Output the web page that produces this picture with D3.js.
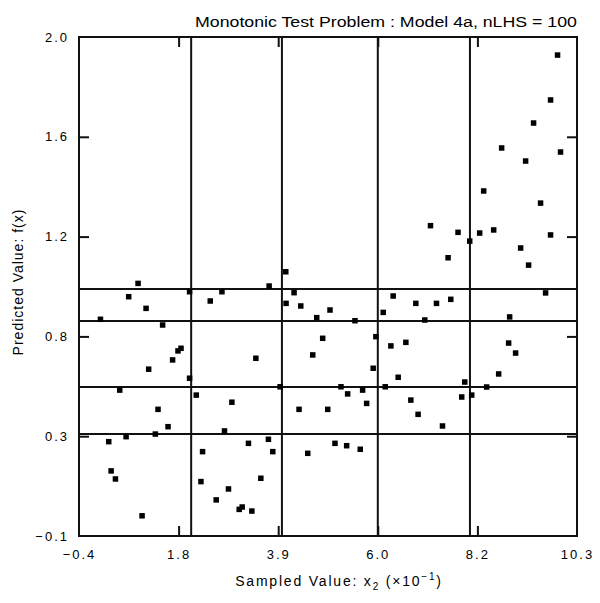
<!DOCTYPE html>
<html>
<head>
<meta charset="utf-8">
<script src="https://cdn.jsdelivr.net/npm/d3@7"></script>
<style>
  html, body { margin: 0; padding: 0; background: #fff; }
  text { font-family: "Liberation Sans", Arial, sans-serif; fill: #000; }
</style>
</head>
<body>
<svg id="chart" width="600" height="603"></svg>
<script>
// ---- data ----
const xValues = [
  0.869, 0.668, 1.041, 0.061, 1.397, 1.976, 2.420, 2.671, 3.685, 4.043,
  4.049, 1.792, 1.727, 1.611, 1.097, 1.976, 3.400, 0.475, 2.120, 2.885,
  3.921, 1.298, 1.513, 1.240, 0.612, 0.239, 2.726, 2.255, 3.241, 3.670,
  3.764, 0.290, 0.383, 2.220, 2.812, 3.507, 2.548, 3.042, 3.106, 3.314,
  0.955,
  4.221, 4.365, 4.993, 4.708, 5.529, 6.350, 6.136, 6.837, 7.281, 7.588,
  7.030, 4.836, 4.622, 5.979, 6.301, 6.623, 5.921, 6.458, 5.229, 5.372,
  5.694, 6.179, 4.328, 4.944, 5.780, 6.730, 6.886, 7.410, 5.100, 5.351,
  5.643, 4.515,
  7.152, 7.530,
  9.882, 9.732, 9.367, 8.681, 9.946, 9.196, 8.295, 9.517, 8.209, 8.510,
  7.995, 7.744, 9.732, 9.089, 9.260, 9.625, 8.853, 8.831, 8.981, 8.617,
  7.888, 8.359, 8.038, 7.823
];
const yValues = [
  0.963, 0.907, 0.858, 0.812, 0.788, 0.928, 0.889, 0.928, 0.952, 1.012,
  0.879, 0.690, 0.679, 0.641, 0.602, 0.564, 0.648, 0.514, 0.493, 0.463,
  0.528, 0.433, 0.360, 0.329, 0.318, 0.297, 0.342, 0.255, 0.290, 0.307,
  0.255, 0.174, 0.140, 0.129, 0.098, 0.143, 0.052, 0.012, 0.022, 0.005,
  -0.015,
  0.924, 0.868, 0.851, 0.819, 0.806, 0.910, 0.841, 0.879, 0.879, 0.896,
  0.809, 0.732, 0.662, 0.739, 0.700, 0.715, 0.606, 0.568, 0.528, 0.498,
  0.514, 0.528, 0.433, 0.433, 0.458, 0.472, 0.412, 0.363, 0.290, 0.280,
  0.265, 0.248,
  1.206, 1.071,
  1.924, 1.735, 1.638, 1.533, 1.516, 1.478, 1.352, 1.301, 1.175, 1.188,
  1.141, 1.178, 1.167, 1.112, 1.040, 0.923, 0.822, 0.712, 0.670, 0.582,
  0.548, 0.527, 0.493, 0.485
];
// bin boundary lines
const xLines = [2.01, 3.96, 6.02, 8.00];
const yLines = [0.940, 0.805, 0.527, 0.329];
const xDomain = [-0.4, 10.3];
const yDomain = [-0.1, 2.0];
const xTickLabels = ["\u22120.4", "1.8", "3.9", "6.0", "8.2", "10.3"];
const yTickLabels = ["\u22120.1", "0.3", "0.8", "1.2", "1.6", "2.0"];
const titleText = "Monotonic Test Problem : Model 4a, nLHS = 100";
const yTitle = "Predicted Value: f(x)";

// ---- layout ----
const svg = d3.select("#chart");
const L = 79, R = 577, T = 37, B = 536;
const x = d3.scaleLinear().domain(xDomain).range([L, R]);
const y = d3.scaleLinear().domain(yDomain).range([B, T]);
const nT = xTickLabels.length - 1;
const xTicks = d3.range(nT + 1).map(i => xDomain[0] + i * (xDomain[1] - xDomain[0]) / nT);
const yTicks = d3.range(nT + 1).map(i => yDomain[0] + i * (yDomain[1] - yDomain[0]) / nT);

// grid/bin lines
svg.append("g").selectAll("line").data(xLines).join("line")
  .attr("x1", d => x(d)).attr("x2", d => x(d))
  .attr("y1", T).attr("y2", B)
  .attr("stroke", "#111").attr("stroke-width", 2);
svg.append("g").selectAll("line").data(yLines).join("line")
  .attr("x1", L).attr("x2", R)
  .attr("y1", d => y(d)).attr("y2", d => y(d))
  .attr("stroke", "#111").attr("stroke-width", 2);

// frame
svg.append("rect").attr("x", L).attr("y", T).attr("width", R - L).attr("height", B - T)
  .attr("fill", "none").attr("stroke", "#111").attr("stroke-width", 2);

// axes (inward ticks) via d3 axes
const tickLen = 10;
const xFmt = (d, i) => xTickLabels[i];
const yFmt = (d, i) => yTickLabels[i];

const xb = svg.append("g").attr("transform", `translate(0,${B})`)
  .call(d3.axisBottom(x).tickValues(xTicks).tickFormat(xFmt).tickSizeInner(-tickLen).tickSizeOuter(0).tickPadding(14));
const xt = svg.append("g").attr("transform", `translate(0,${T})`)
  .call(d3.axisTop(x).tickValues(xTicks).tickFormat("").tickSizeInner(-tickLen).tickSizeOuter(0));
const yl = svg.append("g").attr("transform", `translate(${L},0)`)
  .call(d3.axisLeft(y).tickValues(yTicks).tickFormat(yFmt).tickSizeInner(-tickLen).tickSizeOuter(0).tickPadding(10));
const yr = svg.append("g").attr("transform", `translate(${R},0)`)
  .call(d3.axisRight(y).tickValues(yTicks).tickFormat("").tickSizeInner(-tickLen).tickSizeOuter(0));
[xb, xt, yl, yr].forEach(g => {
  g.select(".domain").remove();
  g.selectAll(".tick line").attr("stroke", "#111").attr("stroke-width", 2);
  g.selectAll("text").attr("font-size", 13).attr("font-family", "Liberation Sans, Arial, sans-serif")
    .attr("fill", "#000").attr("letter-spacing", "2px");
});
// hide ticks at ends (frame corners)
[xb, xt].forEach(g => g.selectAll(".tick line").filter((d, i) => i === 0 || i === nT).remove());
[yl, yr].forEach(g => g.selectAll(".tick line").filter((d, i) => i === 0 || i === nT).remove());
xb.selectAll("text").attr("dy", "0.71em");

// points
const pts = xValues.map((v, i) => [v, yValues[i]]);
const s = 5.5;
svg.append("g").selectAll("rect").data(pts).join("rect")
  .attr("x", d => x(d[0]) - s / 2).attr("y", d => y(d[1]) - s / 2)
  .attr("width", s).attr("height", s).attr("fill", "#000");

// title
svg.append("text").attr("x", R).attr("y", 27).attr("text-anchor", "end")
  .attr("font-size", 14).attr("textLength", 382).attr("lengthAdjust", "spacingAndGlyphs")
  .text(titleText);

// x axis title
const xt2 = svg.append("text").attr("x", 339).attr("y", 586).attr("text-anchor", "middle")
  .attr("font-size", 14).attr("letter-spacing", "1.8px");
xt2.append("tspan").text("Sampled Value: x");
xt2.append("tspan").attr("font-size", 10).attr("dy", 4).text("2");
xt2.append("tspan").attr("dy", -4).text(" (\u00D710");
xt2.append("tspan").attr("font-size", 10).attr("dy", -6).text("\u22121");
xt2.append("tspan").attr("dy", 6).text(")");

// y axis title
svg.append("text").attr("transform", `translate(23,282) rotate(-90)`)
  .attr("text-anchor", "middle").attr("font-size", 14).attr("letter-spacing", "1px").text(yTitle);
</script>
</body>
</html>
